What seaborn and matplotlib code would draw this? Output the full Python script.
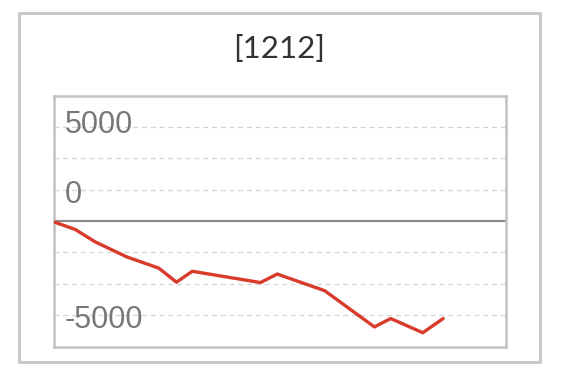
import matplotlib
matplotlib.use("Agg")
import matplotlib.pyplot as plt
import seaborn as sns
import pandas as pd
from matplotlib.patches import Rectangle
import matplotlib.transforms as mtransforms

# ---- data ----
title = "[1212]"
x_pos = [0, 4.8, 9.2, 16.2, 23.3, 27.2, 30.7, 45.8, 49.5, 60.0, 71.0, 74.6, 81.7, 86.2]
pnl = [-50, -660, -1650, -2850, -3750, -4870, -4000, -4900, -4220, -5550, -8440, -7770, -8900, -7770]
grid_values = [-7500, -5000, -2500, 2500, 5000, 7500]
label_texts = ["5000", "0", "-5000"]
label_y = [7670, 2080, -7900]

sns.set_style("white")
plt.rcParams['font.family'] = ['Liberation Sans', 'DejaVu Sans']

df = pd.DataFrame({"x": x_pos, "pnl": pnl})

fig = plt.figure(figsize=(5.63, 3.71), dpi=100)
fig.patch.set_facecolor("white")

# outer frame
fig.patches.append(Rectangle((19.3 / 563, 1 - 361.5 / 371), (539.5 - 19.3) / 563, (361.5 - 13.3) / 371,
                             transform=fig.transFigure, fill=False, edgecolor="#c8c8c8", linewidth=2.0))

ax = fig.add_axes([53.5 / 563, 1 - 346.5 / 371, (505.5 - 53.5) / 563, (346.5 - 95.8) / 371])

for g in grid_values:
    ax.axhline(g, color="#d4d4d4", linewidth=0.9, linestyle=(0, (4, 3)), zorder=1)
ax.axhline(0, color="#8a8a8a", linewidth=1.6, zorder=2)

sns.lineplot(data=df, x="x", y="pnl", ax=ax, color="#d93b2b", linewidth=2.4, zorder=3)

ax.set_xlim(0, 100)
ax.set_ylim(-10000, 10000)
ax.set_xticks([])
ax.set_yticks([])
ax.set_xlabel("")
ax.set_ylabel("")
for s in ax.spines.values():
    s.set_visible(True)
    s.set_color("#c2c2c2")
    s.set_linewidth(1.8)

trans = mtransforms.blended_transform_factory(ax.transAxes, ax.transData)
for t, yv in zip(label_texts, label_y):
    ax.text(0.025, yv, t, transform=trans, ha="left", va="center",
            fontsize=22, color="#777777", zorder=4)

fig.text(279 / 563, 1 - 49.5 / 371, title, ha="center", va="center", fontsize=22.5,
         color="#333333", family=["Lato", "Liberation Sans", "DejaVu Sans"], fontweight="normal")

fig.savefig("out.png", dpi=100, facecolor="white")
